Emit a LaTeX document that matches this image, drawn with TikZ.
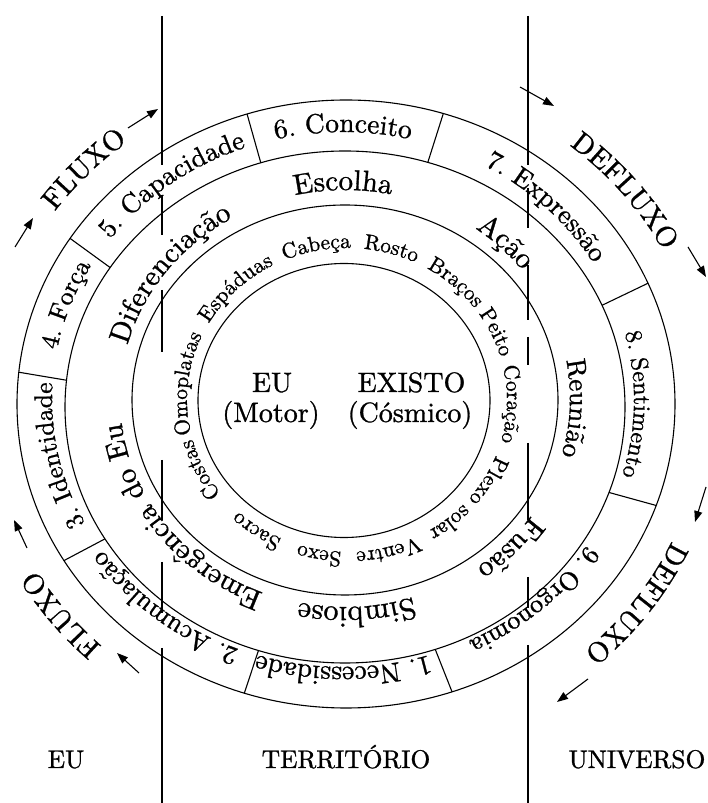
\documentclass[tikz,border=0pt]{standalone}
\usepackage{fontspec}
\setmainfont{lmroman10-regular.otf}[FakeBold=1]
\usetikzlibrary{decorations.text,arrows.meta}
% #1,#2 centre  #3,#4 radii  #5 centre angle  #6 half span  #7 font size  #8 text
\newcommand{\ringtxt}[8]{%
  \path[decorate,decoration={text along path,text align=center,
    text={|\fontsize{#7}{#7}\selectfont|#8}}]
    ({#1+#3*cos(#5+#6)},{#2+#4*sin(#5+#6)})
    arc[start angle={#5+#6},end angle={#5-#6},x radius=#3,y radius=#4];}
\begin{document}
\begin{tikzpicture}[x=1pt,y=1pt,line width=1.1pt,
  ctr/.style={inner sep=0pt,anchor=base,font=\fontsize{28}{28}\selectfont},
  lbl/.style={inner sep=0pt,anchor=base,font=\fontsize{25.5}{25.5}\selectfont},
  arr/.style={-{Triangle[length=11pt,width=8pt]},line width=1.1pt}]
\useasboundingbox (0,0) rectangle (708,803);
% ellipses
\draw (346,399) ellipse [x radius=329,y radius=304];
\draw (345,396) ellipse [x radius=280,y radius=256];
\draw (345,403) ellipse [x radius=213,y radius=195];
\draw (344,402.5) ellipse [x radius=146,y radius=137];
% dividers of the outer ring
\foreach \t in {107.5,72.8,23.4,340.5,288.8,252,211,174,147}
  \draw ({345+280*cos(\t)},{396+256*sin(\t)}) -- ({346+329*cos(\t)},{399+304*sin(\t)});
% vertical lines with gaps
\foreach \a/\b in {16/165,195/235,290/352,460/520,562/613,648/803}
  \draw (162,{803-\a}) -- (162,{803-\b});
\foreach \a/\b in {16/165,188/228,265/320,337/365,443/520,577/608,645/803}
  \draw (528,{803-\a}) -- (528,{803-\b});
% numbered ring
\ringtxt{343}{403.5}{291}{267.5}{90}{50}{27.5}{6. Conceito}
\ringtxt{343}{403.5}{291}{267.5}{44.5}{50}{27}{7. Expressão}
\ringtxt{343}{403.5}{291}{267.5}{-1}{50}{24}{8. Sentimento}
\ringtxt{343}{403.5}{291}{267.5}{-47.5}{50}{26}{9. Orgonomia}
\ringtxt{343}{403.5}{291}{267.5}{270}{50}{27.5}{1. Necessidade}
\ringtxt{343}{403.5}{291}{267.5}{230.5}{50}{26.5}{2. Acumulação}
\ringtxt{343}{403.5}{291}{267.5}{191.5}{50}{25.5}{3. Identidade}
\ringtxt{343}{403.5}{291}{267.5}{160.5}{50}{25.5}{4. Força}
\ringtxt{343}{403.5}{291}{267.5}{127.5}{50}{27}{5. Capacidade}
% middle ring
\ringtxt{345}{404.5}{225}{208.5}{90.5}{50}{29}{Escolha}
\ringtxt{345}{404.5}{225}{208.5}{45}{50}{29}{Ação}
\ringtxt{345}{404.5}{225}{208.5}{-2.5}{50}{27}{Reunião}
\ringtxt{345}{404.5}{225}{208.5}{-43}{50}{29}{Fusão}
\ringtxt{345}{404.5}{225}{208.5}{273}{50}{30}{Simbiose}
\ringtxt{345}{404.5}{225}{208.5}{217}{50}{29}{Emergência do Eu}
\ringtxt{345}{404.5}{225}{208.5}{143.5}{50}{29}{Diferenciação}
% body ring
\ringtxt{347}{403}{160}{152}{206}{40}{21.5}{Costas}
\ringtxt{347}{403}{160}{152}{174}{40}{21.5}{Omoplatas}
\ringtxt{347}{403}{160}{152}{134}{40}{21.5}{Espáduas}
\ringtxt{347}{403}{160}{152}{101}{40}{21.5}{Cabeça}
\ringtxt{347}{403}{160}{152}{74}{40}{21.5}{Rosto}
\ringtxt{347}{403}{160}{152}{48}{40}{21.5}{Braços}
\ringtxt{347}{403}{160}{152}{25}{40}{21.5}{Peito}
\ringtxt{347}{403}{160}{152}{-1.5}{40}{21.5}{Coração}
\ringtxt{347}{403}{160}{152}{-40}{40}{21.5}{Plexo solar}
\ringtxt{347}{403}{160}{152}{-75}{40}{21.5}{Ventre}
\ringtxt{347}{403}{160}{152}{260}{40}{21.5}{Sexo}
\ringtxt{347}{403}{160}{152}{236}{40}{21.5}{Sacro}
% outer labels
\ringtxt{346}{399}{358}{331}{136.5}{30}{28.5}{FLUXO}
\ringtxt{346}{399}{358}{331}{39}{30}{28.5}{DEFLUXO}
\ringtxt{346}{399}{358}{331}{-36}{30}{28.5}{DEFLUXO}
\ringtxt{346}{399}{358}{331}{218}{30}{28.5}{FLUXO}
% arrows
\coordinate (ul1a) at (15,556);  \coordinate (ul1b) at (33,585);
\coordinate (ul2a) at (128,675); \coordinate (ul2b) at (158,694);
\coordinate (ur1a) at (520,716); \coordinate (ur1b) at (554,697);
\coordinate (ur2a) at (688,556); \coordinate (ur2b) at (706,526);
\coordinate (lr1a) at (706,316); \coordinate (lr1b) at (695,281);
\coordinate (lr2a) at (588,124); \coordinate (lr2b) at (557,101);
\coordinate (ll1a) at (139,130); \coordinate (ll1b) at (117,150);
\coordinate (ll2a) at (27,255);  \coordinate (ll2b) at (14,283);
\foreach \p in {ul1,ul2,ur1,ur2,lr1,lr2,ll1,ll2}
  \draw[arr] (\p a) -- (\p b);
% centre texts
\node[ctr] (eu) at (272,411) {EU};
\node[ctr] (motor) at (271,381) {(Motor)};
\node[ctr] (existo) at (411.5,411) {EXISTO};
\node[ctr] (cosmico) at (410,381) {(Cósmico)};
% bottom labels
\node[lbl] (eubot) at (66,35) {EU};
\node[lbl] (terr) at (346,35) {TERRITÓRIO};
\node[lbl] (univ) at (637,35) {UNIVERSO};
\end{tikzpicture}
\end{document}
